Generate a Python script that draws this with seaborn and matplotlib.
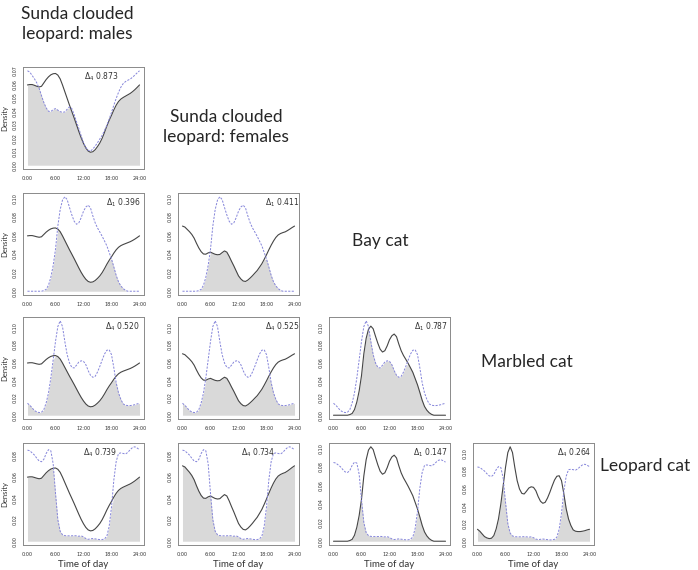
import numpy as np
import pandas as pd
import seaborn as sns
import matplotlib.pyplot as plt

# hours of the day, half-hour steps
hours = [i * 0.5 for i in range(49)]

# activity densities
males = [0.0595, 0.0598, 0.0598, 0.0592, 0.0585, 0.0580, 0.0585, 0.0610, 0.0635, 0.0655,
         0.0670, 0.0678, 0.0680, 0.0668, 0.0640, 0.0595, 0.0545, 0.0495, 0.0445, 0.0398,
         0.0350, 0.0300, 0.0250, 0.0203, 0.0162, 0.0128, 0.0105, 0.0096, 0.0100, 0.0115,
         0.0138, 0.0165, 0.0200, 0.0243, 0.0290, 0.0332, 0.0370, 0.0410, 0.0445, 0.0472,
         0.0490, 0.0502, 0.0512, 0.0522, 0.0532, 0.0545, 0.0560, 0.0577, 0.0595]
females = [0.0700, 0.0690, 0.0665, 0.0640, 0.0610, 0.0570, 0.0515, 0.0465, 0.0425, 0.0400,
           0.0398, 0.0412, 0.0420, 0.0408, 0.0397, 0.0392, 0.0395, 0.0415, 0.0433, 0.0420,
           0.0375, 0.0322, 0.0272, 0.0218, 0.0165, 0.0132, 0.0110, 0.0105, 0.0120, 0.0142,
           0.0167, 0.0195, 0.0222, 0.0258, 0.0295, 0.0342, 0.0392, 0.0445, 0.0495, 0.0540,
           0.0578, 0.0605, 0.0620, 0.0630, 0.0638, 0.0652, 0.0668, 0.0685, 0.0700]
bay_cat = [0.0, 0.0, 0.0, 0.0, 0.0, 0.0, 0.0, 0.0007, 0.0020, 0.0064,
           0.0150, 0.0276, 0.0450, 0.0700, 0.0876, 0.0980, 0.1015, 0.0985, 0.0900, 0.0820,
           0.0752, 0.0720, 0.0735, 0.0790, 0.0860, 0.0905, 0.0925, 0.0895, 0.0810, 0.0735,
           0.0680, 0.0636, 0.0590, 0.0540, 0.0488, 0.0417, 0.0346, 0.0260, 0.0170, 0.0100,
           0.0057, 0.0028, 0.0010, 0.0, 0.0, 0.0, 0.0, 0.0, 0.0]
marbled_cat = [0.0136, 0.0114, 0.0083, 0.0053, 0.0038, 0.0030, 0.0034, 0.0064, 0.0140, 0.0254,
               0.0424, 0.0630, 0.0840, 0.1010, 0.1076, 0.1010, 0.0840, 0.0690, 0.0595, 0.0545,
               0.0538, 0.0570, 0.0606, 0.0620, 0.0614, 0.0576, 0.0508, 0.0455, 0.0432, 0.0443,
               0.0492, 0.0557, 0.0630, 0.0697, 0.0740, 0.0746, 0.0690, 0.0540, 0.0370, 0.0254,
               0.0180, 0.0129, 0.0114, 0.0110, 0.0110, 0.0114, 0.0120, 0.0129, 0.0136]
leopard_cat = [0.0846, 0.0840, 0.0820, 0.0800, 0.0770, 0.0745, 0.0738, 0.0760, 0.0815, 0.0850,
               0.0840, 0.0720, 0.0446, 0.0200, 0.0092, 0.0060, 0.0052, 0.0050, 0.0050, 0.0050,
               0.0052, 0.0050, 0.0046, 0.0050, 0.0040, 0.0025, 0.0018, 0.0022, 0.0025, 0.0022,
               0.0018, 0.0015, 0.0015, 0.0022, 0.0046, 0.0138, 0.0320, 0.0570, 0.0740, 0.0815,
               0.0820, 0.0815, 0.0810, 0.0825, 0.0850, 0.0870, 0.0877, 0.0865, 0.0850]

species = ["Sunda clouded\nleopard: males", "Sunda clouded\nleopard: females",
           "Bay cat", "Marbled cat", "Leopard cat"]
curves = [males, females, bay_cat, marbled_cat, leopard_cat]

# overlap estimates per (row, column), with the Dhat estimator subscript
overlap = {(0, 0): ("4", "0.873"),
           (1, 0): ("1", "0.396"), (1, 1): ("1", "0.411"),
           (2, 0): ("4", "0.520"), (2, 1): ("4", "0.525"), (2, 2): ("1", "0.787"),
           (3, 0): ("4", "0.739"), (3, 1): ("4", "0.734"), (3, 2): ("1", "0.147"), (3, 3): ("4", "0.264")}
label_x = {(0, 0): 0.65, (1, 0): 0.83, (1, 1): 0.86, (2, 0): 0.82, (2, 1): 0.86, (2, 2): 0.84,
           (3, 0): 0.64, (3, 1): 0.66, (3, 2): 0.84, (3, 3): 0.84}

xticks = [0, 6, 12, 18, 24]
xticklabels = ["0:00", "6:00", "12:00", "18:00", "24:00"]

sns.set_style("white")
plt.rcParams['font.family'] = ['DejaVu Sans']

W, H = 698, 570
fig = plt.figure(figsize=(W / 100, H / 100), dpi=100)

col_left = [23, 178, 329, 473]
row_top = [67, 193, 317, 443]
pw, ph = 121, 102

frame_col = "#8a8a8a"
for (r, c), (sub, val) in overlap.items():
    ax = fig.add_axes([col_left[c] / W, 1 - (row_top[r] + ph) / H, pw / W, ph / H])
    a = np.array(curves[c])
    b = np.array(curves[r + 1])
    ax.fill_between(hours, 0, np.minimum(a, b), color="#d9d9d9", lw=0)
    sns.lineplot(x=hours, y=curves[c], ax=ax, color="#454545", lw=0.8, estimator=None, sort=False)
    sns.lineplot(x=hours, y=curves[r + 1], ax=ax, color="#8484da", lw=0.7,
                 linestyle=(0, (2.2, 1.4)), estimator=None, sort=False)
    top = max(a.max(), b.max())
    ax.set_xlim(-0.96, 24.96)
    ax.set_ylim(-0.04 * top, top * 1.04)
    step = 0.01 if top < 0.075 else 0.02
    yt = np.arange(0, top + 1e-9, step)
    ax.set_yticks(yt)
    ax.set_yticklabels([f"{v:.2f}" for v in yt])
    ax.set_xticks(xticks)
    ax.set_xticklabels(xticklabels)
    ax.tick_params(axis="both", length=2, width=0.5, color=frame_col, labelsize=3.5,
                   labelcolor="#333333", pad=2, direction="out")
    ax.tick_params(axis="x", pad=3)
    plt.setp(ax.get_yticklabels(), rotation=90, va="center")
    for s in ax.spines.values():
        s.set_color(frame_col)
        s.set_linewidth(0.7)
    ax.set_xlabel("")
    ax.set_ylabel("")
    ax.text(label_x[(r, c)], 0.9, rf"$\Delta_{sub}$ {val}", transform=ax.transAxes,
            ha="center", va="center", fontsize=5.5, color="#333333")
    if c == 0:
        ax.set_ylabel("Density", fontsize=5.5, color="#333333", family="Lato", labelpad=3)
    if r == 3:
        ax.set_xlabel("Time of day", fontsize=7, color="#333333", family="Lato", labelpad=2)

# species names along the diagonal
label_pos = [(77, 24), (226, 127), (380, 241), (527, 362), (645, 466)]
for name, (x, y) in zip(species, label_pos):
    fig.text(x / W, 1 - y / H, name, ha="center", va="center", fontsize=12.5,
             family="Lato", color="#262626", linespacing=1.35)

fig.savefig("out.png", dpi=100, facecolor="white")
